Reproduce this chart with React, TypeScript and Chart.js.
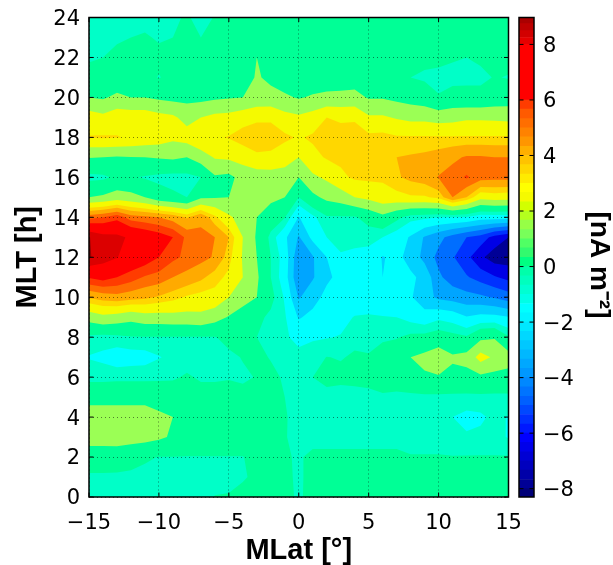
import React, { useEffect, useRef } from "react";
import { Chart, registerables } from "chart.js";

Chart.register(...registerables);

const latValues = [-15,-14,-13,-12,-11,-10,-9,-8,-7,-6,-5,-4,-3,-2,-1,0,1,2,3,4,5,6,7,8,9,10,11,12,13,14,15];
const mltValues = [0,1,2,3,4,5,6,7,8,9,10,11,12,13,14,15,16,17,18,19,20,21,22,23,24];

const mlt00 = [-1,-1,-1,-1,-1,-1,-1,-.82,-1,-.78,-.75,-.5,-.5,-.5,-.5,-.95,-.45,-.45,-.45,-.45,-.45,-.45,-.45,-.45,-.45,-.45,-.45,-.45,-.45,-.45,-.45];
const mlt01 = [-1,-1,-1,-1,-1,-1,-1,-1,-1,-1,-1,-.9,-.6,-.5,-.6,-.95,-.5,-.5,-.5,-.5,-.5,-.5,-.5,-.5,-.5,-.5,-.5,-.5,-.5,-.5,-.5];
const mlt02 = [0,0,-.1,-.4,-.7,-.82,-.82,-.82,-.82,-.82,-.82,-.82,-.6,-.5,-.7,-.9,-.6,-.6,-.6,-.6,-.6,-.6,-.6,-.75,-.75,-.75,-.75,-.75,-.75,-.75,-.75];
const mlt03 = [.9,.9,1,1,.95,.7,.35,-.3,-.3,-.3,-.3,-.3,-.3,-.3,-.75,-1.05,-1.1,-1.1,-1.1,-1.1,-1.1,-1.1,-1.1,-1.1,-1.1,-1.1,-1.5,-1.4,-1.3,-1.3,-1.55];
const mlt04 = [1.3,1.3,1.3,1.3,1.3,.8,.5,-.1,-.2,-.2,-.2,-.2,-.2,-.3,-.75,-1,-1.05,-1.05,-1.05,-1.05,-1.05,-1.05,-1.05,-1.05,-1.05,-1.05,-1.5,-1.75,-1.65,-1.3,-1.55];
const mlt05 = [-.05,-.05,-.05,-.05,-.05,-.2,-.3,-.4,-.5,-.5,-.5,-.5,-.5,-.6,-.8,-1,-1.1,-1.1,-1.1,-1.1,-1,-.9,-1,-1,-1,-1,-1,-1,-1,-1,-1];
const mlt06 = [-1.05,-1.05,-1,-1,-1,-.95,-.9,-.7,-.9,-.9,-.85,-.95,-.75,-.6,-.9,-1,-.8,-.5,-.6,-.55,-.55,-.4,-.3,0,.35,.4,.2,.1,.25,.1,.1];
const mlt07 = [-1.55,-1.7,-2,-1.9,-1.85,-1.55,-1.3,-1.15,-1.1,-1,-1,-.75,-.6,-.85,-1,-1.3,-1.1,-.78,-.85,-.7,-.75,-.5,-.3,.5,.8,1.3,.65,.9,2.15,1.5,1];
const mlt08 = [-1,-1.1,-1,-.85,-.85,-.85,-.85,-.85,-.85,-.85,-.5,-.55,-.8,-1.1,-1.4,-1.7,-1.6,-1.55,-1.45,-1,-1,-.9,-.85,-.6,-.5,-.3,-.5,-.7,.2,.4,-.7];
const mlt09 = [1,1.4,1.2,.9,1.2,1.2,1.3,1.3,1.4,1,.4,-.2,-.55,-1,-1.4,-2.6,-2.2,-1.9,-1.8,-1.45,-1.4,-1.45,-1.5,-1.8,-2.1,-1.7,-1.9,-2.45,-2.2,-2.2,-2.45];
const mlt10 = [3.6,3.9,4.1,3.9,3.7,3.4,3.1,2.7,2.5,2.5,1.7,1.1,.5,-.5,-1.6,-3.6,-2.9,-2.2,-2.1,-2.1,-2.1,-2.3,-2.2,-2.4,-3.1,-3.7,-3.9,-4.15,-4.3,-4.6,-5];
const mlt11 = [6.1,6.4,6,5.6,5.1,4.9,4.4,4.1,3.7,3.1,2.6,1.7,.7,-.8,-2,-4.4,-3.6,-2.7,-2.2,-2.2,-2.2,-2.5,-2.4,-2.3,-2.8,-4.3,-5,-5.4,-5.9,-6.4,-6.8];
const mlt12 = [8.6,8,7.55,6.9,6.6,6,5.4,5,4.7,4.3,3.1,1.6,.5,-.8,-1.9,-4.3,-3.6,-2.5,-1.6,-1.75,-1.75,-2.57,-2.2,-2.9,-3.8,-4.8,-5.4,-6.2,-7.3,-8,-8];
const mlt13 = [8.55,7.9,7.8,7.3,6.9,6.5,6,5,4.6,4.4,3.5,1.7,.35,-1.05,-2.3,-3.6,-2.2,-1.5,-1.2,-1.2,-1.3,-1.5,-2,-2.6,-3.6,-4.2,-4.9,-5.5,-5.9,-6.9,-7.5];
const mlt14 = [4.9,5.2,5.7,4.8,4.6,4.4,4,3.4,4.2,3,1.9,1.2,.5,-.2,-.75,-2.55,-1.7,-.9,-.9,-.9,-.4,.2,-.55,-1.2,-1.3,-1.5,-1.5,-1.6,-2,-2,-2];
const mlt15 = [.5,.7,1.1,.9,.5,-.3,-.6,-.8,.3,.4,.5,1,1,.8,.5,-.8,.2,.8,1.1,1.7,2,2.4,2.5,2.7,2.7,3,4.4,3.5,2.1,2.3,2.2];
const mlt16 = [-1.1,-1,-.6,-.7,-.9,-1.05,-1.15,-1.1,-.8,.35,.2,.9,1.1,1.2,1.2,.5,1.5,1.9,2.6,2.95,3,2.95,3.4,3.7,3.9,4.45,4.8,5.3,4.8,4.7,4.7];
const mlt17 = [.55,.5,.4,.45,.5,.6,.7,.5,1.1,1.8,1.9,2.2,2.6,2.5,2.2,1.7,2.5,2.9,3,3.1,3.2,3.2,3.5,3.6,3.7,3.9,4.2,4.5,4.5,4.4,4.4];
const mlt18 = [2.85,2.9,2.85,2.7,2.5,2.3,1.95,2.2,2.75,2.7,2.85,3.2,3.4,3.4,3,2.7,2.95,3.3,3.3,3.3,3.05,3.1,2.9,2.9,2.9,2.9,2.9,2.9,2.9,2.9,2.9];
const mlt19 = [2.3,2,2.4,2.4,2.4,2.1,1.9,1.3,1.7,2,2.1,2.4,2.6,2.6,2.1,1.9,2.2,2.8,2.6,2.65,1.85,1.85,1.6,1.4,1.4,1.2,1.3,1.5,1.5,1.45,1.4];
const mlt20 = [.5,.35,.8,.5,.5,.3,.15,.15,.15,.3,.4,.5,.9,.95,.7,.4,.65,.8,.85,.9,.4,.4,.2,0,-.2,-.75,-.4,-.5,-.5,-.3,-.2];
const mlt21 = [-.5,-.5,-.5,-.5,-.5,-.85,-.5,-.5,-.5,-.4,-.3,-.2,.65,.2,-.2,-.3,-.3,-.2,-.2,-.1,-.3,-.4,-.5,-.8,-.95,-1,-1.1,-1,-1,-.75,-.85];
const mlt22 = [-.9,-.8,-.7,-.65,-.6,-.55,-.55,-.55,-.55,-.5,-.5,-.4,.5,-.3,-.4,-.45,-.4,-.4,-.4,-.4,-.45,-.5,-.5,-.5,-.55,-.6,-.7,-.8,-.65,-.5,-.5];
const mlt23 = [-1.1,-1,-.85,-.8,-.7,-.9,-.8,-.6,-.8,-.6,-.45,-.45,-.45,-.45,-.45,-.45,-.4,-.4,-.4,-.4,-.4,-.4,-.4,-.4,-.4,-.4,-.4,-.4,-.4,-.4,-.4];
const mlt24 = [-1.2,-1.2,-1.1,-1.1,-1.1,-1.1,-.95,-.7,-1.1,-.75,-.5,-.5,-.5,-.5,-.5,-.5,-.3,-.3,-.3,-.3,-.3,-.3,-.3,-.3,-.3,-.3,-.3,-.3,-.3,-.3,-.3];
const fieldRows = [mlt00,mlt01,mlt02,mlt03,mlt04,mlt05,mlt06,mlt07,mlt08,mlt09,mlt10,mlt11,mlt12,mlt13,mlt14,mlt15,mlt16,mlt17,mlt18,mlt19,mlt20,mlt21,mlt22,mlt23,mlt24];

const bandLevels = [-7.5,-6.5,-5.5,-4.5,-3.5,-2.5,-1.5,-0.8,0.5,1.7,2.8,3.5,4.4,5.2,6,7.5,8.5];
const bandColors = ["#000096","#0000e6","#0032ff","#006eff","#00a5ff","#00d2ff","#00ffff","#00ffc8","#00ff96","#9bff55","#f5fa00","#ffd700","#ffaa00","#ff6e00","#ff3c00","#ff0000","#dc0000","#960000"];

const cbarEdges = [-8.3,-8,-7.67,-7.33,-7,-6.67,-6.33,-6,-5.67,-5.33,-5,-4.67,-4.33,-4,-3.67,-3.33,-3,-2.67,-2.33,-2,-1.67,-1.33,-1,-.67,-.33,0,.33,.67,1,1.33,1.67,2,2.33,2.67,3,3.33,3.67,4,4.33,4.67,5,5.33,5.67,6,8,8.25,8.5,8.75,8.97];
const cbarColors = ["#000078","#000096","#0000a8","#0000be","#0000d4","#0000ea","#0000ff","#0018ff","#0030ff","#0048ff","#0060ff","#0074ff","#0088ff","#0098ff","#00a8ff","#00b8ff","#00c8ff","#00d8ff","#00e8ff","#00f4ff","#00ffff","#00ffe6","#00ffd2","#00ffbe","#00ffaa","#00ff82","#32fa6e","#50ff64","#78ff5a","#96ff46","#b4ff1e","#d2ff00","#f5fa00","#ffff00","#ffeb00","#ffd700","#ffc300","#ffaf00","#ff9600","#ff8200","#ff6e00","#ff5a00","#ff3c00","#ff0000","#e60000","#d20000","#be0000","#aa0000"];

const xTickValues = [-15,-10,-5,0,5,10,15];
const yTickValues = [0,2,4,6,8,10,12,14,16,18,20,22,24];
const cbarTickValues = [-8,-6,-4,-2,0,2,4,6,8];

const fieldPoints = fieldRows.flatMap((row, r) => row.map((v, c) => ({ x: latValues[c], y: mltValues[r], v })));

type P = { x: number; y: number; v: number };

function clipPolygon(poly: P[], t: number): P[] {
  const out: P[] = [];
  for (let i = 0; i < poly.length; i++) {
    const a = poly[i];
    const b = poly[(i + 1) % poly.length];
    const ain = a.v >= t;
    const bin = b.v >= t;
    if (ain) out.push(a);
    if (ain !== bin) {
      const f = (t - a.v) / (b.v - a.v);
      out.push({ x: a.x + (b.x - a.x) * f, y: a.y + (b.y - a.y) * f, v: t });
    }
  }
  return out;
}

const contourPlugin = {
  id: "contourBands",
  beforeDatasetsDraw(chart: any) {
    const { ctx, chartArea, scales } = chart;
    const pts = chart.data.datasets[0].data as P[];
    const nx = latValues.length;
    const px = (p: P) => scales.x.getPixelForValue(p.x);
    const py = (p: P) => scales.y.getPixelForValue(p.y);
    ctx.save();
    ctx.beginPath();
    ctx.rect(chartArea.left, chartArea.top, chartArea.right - chartArea.left, chartArea.bottom - chartArea.top);
    ctx.clip();
    ctx.fillStyle = bandColors[0];
    ctx.fillRect(chartArea.left, chartArea.top, chartArea.right - chartArea.left, chartArea.bottom - chartArea.top);
    bandLevels.forEach((t, i) => {
      ctx.beginPath();
      for (let r = 0; r < mltValues.length - 1; r++) {
        for (let c = 0; c < nx - 1; c++) {
          const q = [pts[r * nx + c], pts[r * nx + c + 1], pts[(r + 1) * nx + c + 1], pts[(r + 1) * nx + c]];
          const clipped = clipPolygon(q, t);
          if (clipped.length < 3) continue;
          clipped.forEach((p, k) => (k === 0 ? ctx.moveTo(px(p), py(p)) : ctx.lineTo(px(p), py(p))));
          ctx.closePath();
        }
      }
      ctx.fillStyle = bandColors[i + 1];
      ctx.fill();
    });
    ctx.restore();
  },
};

const insideTicksPlugin = {
  id: "insideTicks",
  afterDraw(chart: any) {
    const { ctx, chartArea: a, scales } = chart;
    ctx.save();
    ctx.strokeStyle = "#000";
    ctx.lineWidth = 1;
    const len = 4.5;
    ctx.beginPath();
    scales.y.ticks.forEach((t: any) => {
      const y = scales.y.getPixelForValue(t.value);
      ctx.moveTo(a.left, y);
      ctx.lineTo(a.left + len, y);
      ctx.moveTo(a.right, y);
      ctx.lineTo(a.right - len, y);
    });
    if (scales.x.options.display) {
      scales.x.ticks.forEach((t: any) => {
        const x = scales.x.getPixelForValue(t.value);
        ctx.moveTo(x, a.top);
        ctx.lineTo(x, a.top + len);
        ctx.moveTo(x, a.bottom);
        ctx.lineTo(x, a.bottom - len);
      });
    }
    ctx.stroke();
    ctx.lineWidth = 1.5;
    ctx.strokeRect(a.left, a.top, a.right - a.left, a.bottom - a.top);
    ctx.restore();
  },
};

const fixSize = (s: any, width?: number, height?: number) => {
  if (width !== undefined) s.width = width;
  if (height !== undefined) s.height = height;
  s.paddingTop = 0;
  s.paddingBottom = 0;
  s.paddingLeft = 0;
  s.paddingRight = 0;
};

const tickFont = { family: "'DejaVu Sans'", size: 21 };
const titleFont = { family: "'Liberation Sans'", size: 29, weight: "bold" as const, lineHeight: 1 };
const cbarTitleFont = { family: "'Liberation Sans'", size: 28, weight: "bold" as const, lineHeight: 1 };
const gridColor = "rgba(0,0,0,0.7)";
const fmt = (v: number | string) => String(v).replace("-", "\u2212");
const tooltipOff = { legend: { display: false }, tooltip: { enabled: false }, title: { display: false } };

export default function App() {
  const mainRef = useRef<HTMLCanvasElement>(null);
  const barRef = useRef<HTMLCanvasElement>(null);

  useEffect(() => {
    document.body.style.margin = "0";
    const main = new Chart(mainRef.current!, {
      type: "scatter",
      data: { datasets: [{ label: "J", data: fieldPoints as any, pointRadius: 0, pointHoverRadius: 0, pointHitRadius: 0, pointBorderWidth: 0, showLine: false }] },
      plugins: [contourPlugin, insideTicksPlugin],
      options: {
        animation: false,
        responsive: false,
        layout: { autoPadding: false, padding: { top: 17.5, right: 104.5, left: 0, bottom: 0 } },
        plugins: tooltipOff,
        scales: {
          x: {
            type: "linear",
            min: -15,
            max: 15,
            afterFit: (s: any) => fixSize(s, undefined, 68),
            afterBuildTicks: (s: any) => { s.ticks = xTickValues.map((value) => ({ value })); },
            grid: { z: 1, color: gridColor, lineWidth: 0.7, drawTicks: false },
            border: { dash: [1, 3], display: false },
            ticks: { font: tickFont, color: "#000", padding: 14, maxRotation: 0, autoSkip: false, callback: fmt },
            title: { display: true, text: "MLat [\u00b0]", font: titleFont, color: "#000", padding: { top: 0, bottom: 0 } },
          },
          y: {
            type: "linear",
            min: 0,
            max: 24,
            afterFit: (s: any) => fixSize(s, 89),
            afterBuildTicks: (s: any) => { s.ticks = yTickValues.map((value) => ({ value })); },
            grid: { z: 1, color: gridColor, lineWidth: 0.7, drawTicks: false },
            border: { dash: [1, 3], display: false },
            ticks: { font: tickFont, color: "#000", padding: 9, labelOffset: 2, autoSkip: false, callback: fmt },
            title: { display: true, text: "MLT [h]", font: titleFont, color: "#000", padding: { top: 13, bottom: 0 } },
          },
        },
      },
    } as any);

    const bar = new Chart(barRef.current!, {
      type: "bar",
      data: {
        labels: ["scale"],
        datasets: cbarColors.map((color, i) => ({
          label: String(i),
          data: [[cbarEdges[i], cbarEdges[i + 1]]] as any,
          backgroundColor: color,
          borderWidth: 0,
          barPercentage: 1,
          categoryPercentage: 1,
        })),
      },
      plugins: [insideTicksPlugin],
      options: {
        animation: false,
        responsive: false,
        layout: { autoPadding: false, padding: { top: 17.5, right: 0, left: 9, bottom: 68 } },
        plugins: tooltipOff,
        scales: {
          x: { stacked: true, display: false },
          y: {
            type: "linear",
            position: "right",
            min: -8.3,
            max: 8.97,
            afterFit: (s: any) => fixSize(s, 79),
            afterBuildTicks: (s: any) => { s.ticks = cbarTickValues.map((value) => ({ value })); },
            grid: { display: false, drawTicks: false },
            border: { display: false },
            ticks: { font: tickFont, color: "#000", padding: 9, labelOffset: 2, autoSkip: false, callback: fmt },
            title: { display: true, text: "\u00a0\u00a0[nA m\u207b\u00b2]", font: cbarTitleFont, color: "#000", padding: { top: 0, bottom: 0 } },
          },
        },
      },
    } as any);

    return () => {
      main.destroy();
      bar.destroy();
    };
  }, []);

  return (
    <div style={{ position: "relative", width: 613, height: 565, background: "#fff", overflow: "hidden" }}>
      <canvas ref={mainRef} width={613} height={565} style={{ position: "absolute", left: 0, top: 0, width: 613, height: 565 }} />
      <canvas ref={barRef} width={103} height={565} style={{ position: "absolute", left: 510, top: 0, width: 103, height: 565 }} />
    </div>
  );
}
